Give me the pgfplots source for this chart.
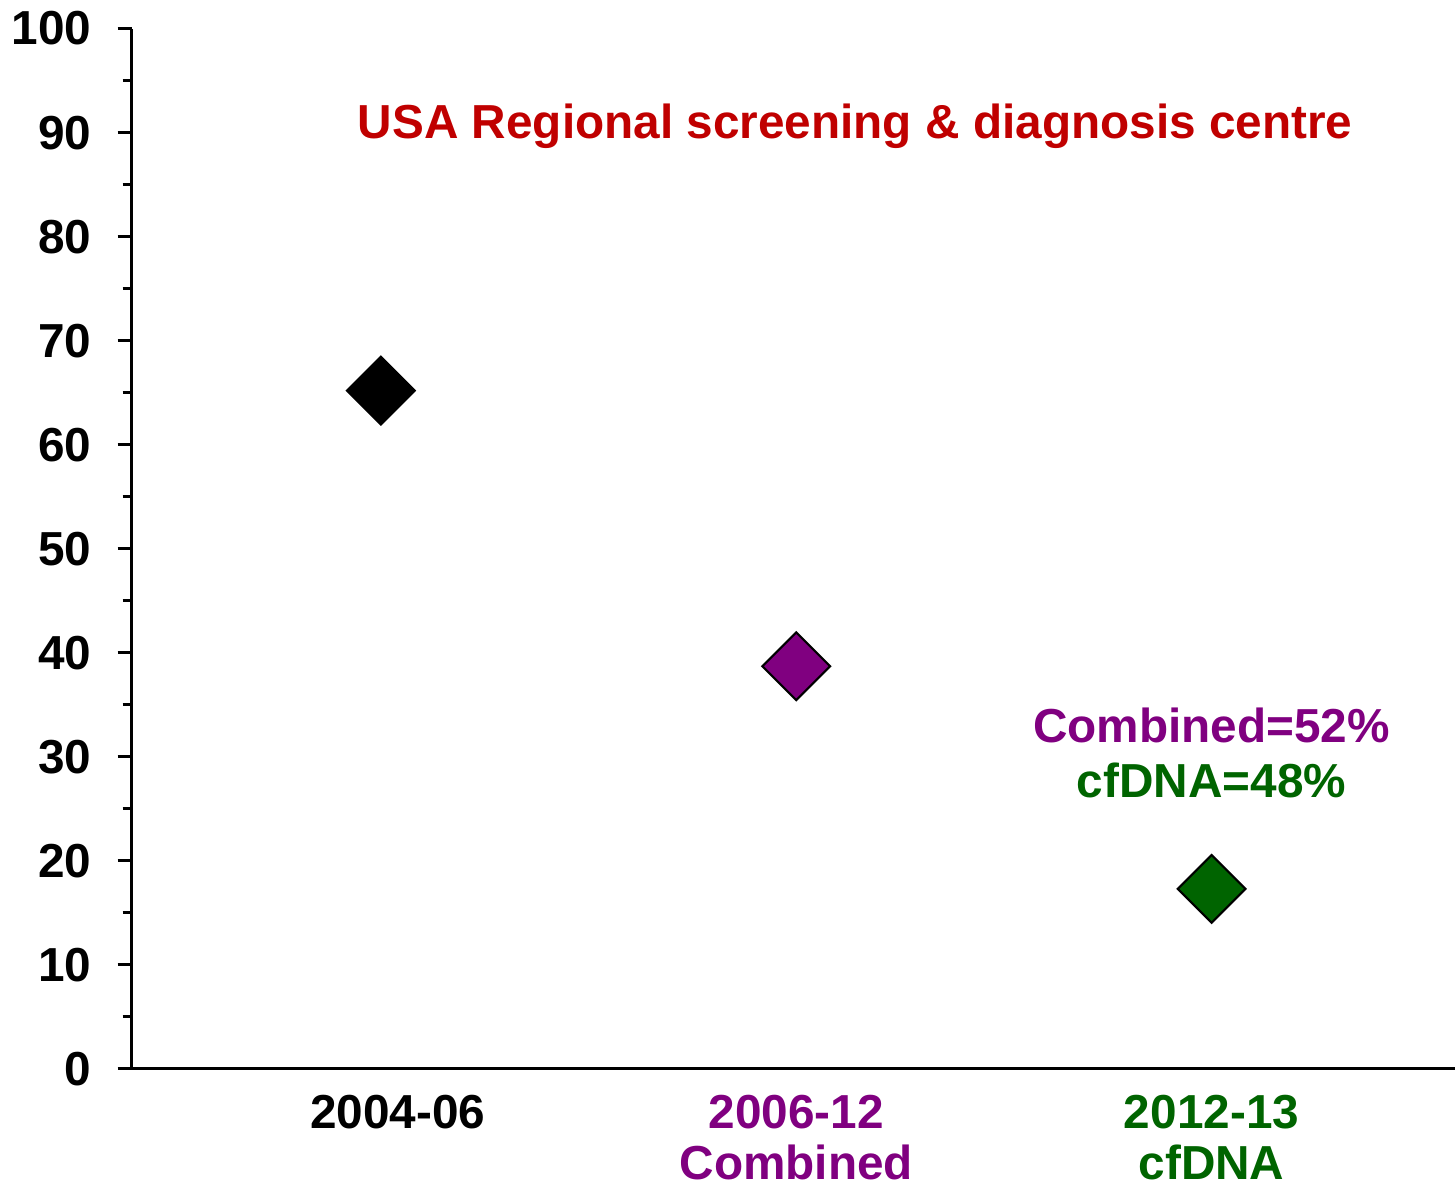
\documentclass[border=0pt]{standalone}
\usepackage{fontspec}
\setmainfont{Liberation Sans}
\usepackage{pgfplots}
\pgfplotsset{compat=1.18}
\definecolor{DarkRed}{RGB}{192,0,0}
\definecolor{Plum}{RGB}{128,0,128}
\definecolor{DeepGreen}{RGB}{0,100,0}
\newcommand{\lbl}{\fontsize{13.6}{14.4}\selectfont\bfseries}
\begin{document}
\begin{tikzpicture}
\begin{axis}[
  scale only axis, width=132.5mm, height=104.2mm,
  xmin=-0.6, xmax=2.585, ymin=0, ymax=100,
  axis x line=bottom, axis y line=left,
  axis line style={-, line width=0.85pt},
  ytick={0,10,...,100}, minor y tick num=1,
  tick align=outside, major tick length=1.4mm, minor tick length=0.9mm,
  every tick/.style={line width=0.85pt, black},
  xtick={0,1,2}, xtick style={draw=none},
  xticklabels={{\hspace*{3.4mm}2004-06},{\textcolor{Plum}{2006-12}\\\textcolor{Plum}{Combined}},{\textcolor{DeepGreen}{2012-13}\\\textcolor{DeepGreen}{cfDNA}}},
  xticklabel style={align=center, font=\lbl},
  yticklabel style={font=\lbl, xshift=-1.4mm},
  /pgf/number format/assume math mode=true,
  clip=false,
]
\addplot[only marks, mark=square*, mark size=2.4mm, mark options={rotate=45, fill=black, draw=black, line width=0.6pt}]
  coordinates {(0,65.2)};
\addplot[only marks, mark=square*, mark size=2.4mm, mark options={rotate=45, fill=Plum, draw=black, line width=0.6pt}]
  coordinates {(1,38.7)};
\addplot[only marks, mark=square*, mark size=2.4mm, mark options={rotate=45, fill=DeepGreen, draw=black, line width=0.6pt}]
  coordinates {(2,17.3)};
\node[font=\lbl, text=DarkRed] at (axis cs:1.142,90.6) {USA Regional screening \& diagnosis centre};
\node[font=\lbl, text=Plum] at (axis cs:2.0,33.0) {Combined=52\%};
\node[font=\lbl, text=DeepGreen] at (axis cs:2.0,27.7) {cfDNA=48\%};
\end{axis}
\end{tikzpicture}
\end{document}
